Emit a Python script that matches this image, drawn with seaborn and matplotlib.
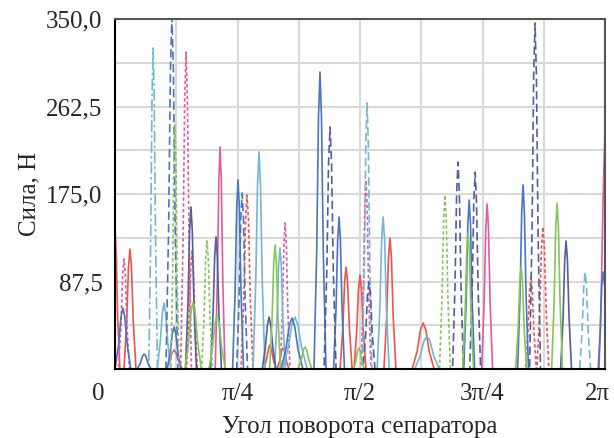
import seaborn as sns
import numpy as np
import pandas as pd
import matplotlib
matplotlib.use("Agg")
import matplotlib.pyplot as plt
import matplotlib.transforms as mtransforms
from matplotlib.ticker import MultipleLocator, FixedLocator, FixedFormatter

# ось X в градусах (0 .. 180), ось Y - сила, Н
red_solid_x = [0, 0.5, 1.0, 1.8,
               3.3, 4.3, 4.95, 5.5, 6.05, 6.7, 7.7,
               54.7, 55.7, 56.35, 56.9, 57.45, 58.1, 59.1,
               59.5, 60.5, 61.15, 61.7, 62.25, 62.9, 63.9,
               82.7, 83.7, 84.35, 84.9, 85.45, 86.1, 87.1,
               87.8, 88.8, 89.45, 90.0, 90.55, 91.2, 92.2,
               98.8, 99.8, 100.45, 101.0, 101.55, 102.2, 103.2,
               109.2, 111.0, 112.2, 113.2, 114.2, 115.4, 117.2,
               180]
red_solid_y = [142, 110, 50, 0,
               0, 48, 102, 120, 102, 48, 0,
               0, 10, 20, 24, 20, 10, 0,
               0, 8, 18, 21, 18, 8, 0,
               0, 41, 87, 102, 87, 41, 0,
               0, 38, 80, 94, 80, 38, 0,
               0, 52, 111, 131, 111, 52, 0,
               0, 18, 39, 46, 39, 18, 0,
               0]

red_dot_x = [0, 26.3, 27.2, 27.8, 28.3, 28.8, 29.4, 30.3,
             46.3, 47.3, 47.95, 48.5, 49.05, 49.7, 50.7,
             150.8, 151.7, 152.3, 152.8, 153.3, 153.9, 154.8,
             155.0, 156.0, 156.65, 157.2, 157.75, 158.4, 159.4, 180]
red_dot_y = [0, 0, 47, 100, 118, 100, 47, 0,
             0, 70, 148, 174, 148, 70, 0,
             0, 37, 78, 92, 78, 37, 0,
             0, 57, 121, 142, 121, 57, 0, 0]

pink_solid_x = [0, 18.7, 20.05, 20.95, 21.7, 22.45, 23.35, 24.7,
                36.8, 37.6, 38.15, 38.6, 39.05, 39.6, 40.4,
                134.7, 135.6, 136.2, 136.7, 137.2, 137.8, 138.7,
                177.8, 178.6, 179.3, 180]
pink_solid_y = [0, 0, 8, 16, 19, 16, 8, 0,
                0, 89, 189, 222, 189, 89, 0,
                0, 66, 140, 165, 140, 66, 0,
                0, 70, 170, 240]

pink_dot_x = [0, 1.3, 2.2, 2.8, 3.3, 3.8, 4.4, 5.3,
              24.1, 25.0, 25.6, 26.1, 26.6, 27.2, 28.1,
              60.7, 61.5, 62.05, 62.5, 62.95, 63.5, 64.3,
              90.4, 91.2, 91.75, 92.2, 92.65, 93.2, 94.0, 180]
pink_dot_y = [0, 0, 44, 94, 110, 94, 44, 0,
              0, 127, 269, 317, 269, 127, 0,
              0, 58, 124, 146, 124, 58, 0,
              0, 76, 161, 189, 161, 76, 0, 0]

lblue_dashdot_x = [0, 12.4, 13.1, 13.6, 14.0, 14.4, 14.9, 15.6, 180]
lblue_dashdot_y = [0, 0, 128, 273, 321, 273, 128, 0, 0]

lblue_dash_x = [0, 90.8, 91.6, 92.15, 92.6, 93.05, 93.6, 94.4,
                170.7, 171.6, 172.2, 172.7, 173.2, 173.8, 174.7, 180]
lblue_dash_y = [0, 0, 106, 226, 266, 226, 106, 0,
                0, 39, 82, 97, 82, 39, 0, 0]

lblue_solid_x = [0, 15.5, 16.6, 17.4, 18.0, 18.6, 19.4, 20.5,
                 50.7, 51.7, 52.35, 52.9, 53.45, 54.1, 55.1,
                 61.6, 63.6, 65.0, 66.1, 67.2, 68.6, 70.6,
                 96.3, 97.3, 97.95, 98.5, 99.05, 99.7, 100.7, 180]
lblue_solid_y = [0, 0, 26, 56, 66, 56, 26, 0,
                 0, 87, 184, 217, 184, 87, 0,
                 0, 21, 44, 52, 44, 21, 0,
                 0, 61, 129, 152, 129, 61, 0, 0]

lblue_solid2_x = [0, 58.6, 59.5, 60.1, 60.6, 61.1, 61.7, 62.6,
                  110.1, 112.1, 113.5, 114.6, 115.7, 117.1, 119.1, 180]
lblue_solid2_y = [0, 0, 48, 103, 121, 103, 48, 0,
                  0, 13, 28, 33, 28, 13, 0, 0]

blue_solid_x = [0, 1.3, 2.2, 2.9, 3.6, 4.5, 5.8,
                8.2, 9.3, 10.1, 10.7, 11.3, 12.1, 13.2,
                19.2, 20.3, 21.1, 21.7, 22.3, 23.1, 24.2,
                43.2, 44.1, 44.7, 45.2, 45.7, 46.3, 47.2,
                61.0, 62.8, 64.0, 65.0, 66.0, 67.2, 69.0,
                73.1, 74.1, 74.75, 75.3, 75.85, 76.5, 77.5,
                80.3, 81.2, 81.8, 82.3, 82.8, 83.4, 84.3,
                128.1, 129.0, 129.6, 130.1, 130.6, 131.2, 132.1,
                147.9, 148.8, 149.4, 149.9, 150.4, 151.0, 151.9,
                177.5, 178.3, 178.8, 179.3, 180]
blue_solid_y = [0, 24, 52, 61, 52, 24, 0,
                0, 6, 13, 15, 13, 6, 0,
                0, 17, 36, 42, 36, 17, 0,
                0, 76, 161, 189, 161, 76, 0,
                0, 20, 43, 51, 43, 20, 0,
                0, 119, 252, 297, 252, 119, 0,
                0, 61, 129, 152, 129, 61, 0,
                0, 68, 144, 169, 144, 68, 0,
                0, 74, 156, 184, 156, 74, 0,
                0, 40, 85, 97, 80]

blue_dash_x = [0, 18.7, 19.7, 20.35, 20.9, 21.45, 22.1, 23.1,
               44.7, 45.6, 46.2, 46.7, 47.2, 47.8, 48.7, 180]
blue_dash_y = [0, 0, 141, 299, 352, 299, 141, 0,
               0, 70, 150, 176, 150, 70, 0, 0]

navy_dash_x = [0, 76.8, 77.8, 78.45, 79.0, 79.55, 80.2, 81.2,
               91.1, 92.1, 92.75, 93.3, 93.85, 94.5, 95.5,
               124.0, 124.9, 125.5, 126.0, 126.5, 127.1, 128.0,
               130.3, 131.2, 131.8, 132.3, 132.8, 133.4, 134.3,
               152.3, 153.2, 153.8, 154.3, 154.8, 155.4, 156.3, 180]
navy_dash_y = [0, 0, 97, 206, 242, 206, 97, 0,
               0, 35, 74, 87, 74, 35, 0,
               0, 83, 176, 207, 176, 83, 0,
               0, 79, 167, 197, 167, 79, 0,
               0, 138, 294, 346, 294, 138, 0, 0]

navy_solid_x = [0, 25.9, 26.8, 27.4, 27.9, 28.4, 29.0, 29.9,
                35.1, 36.0, 36.6, 37.1, 37.6, 38.2, 39.1,
                54.1, 55.2, 56.0, 56.6, 57.2, 58.0, 59.1,
                163.7, 164.6, 165.2, 165.7, 166.2, 166.8, 167.7, 180]
navy_solid_y = [0, 0, 65, 138, 162, 138, 65, 0,
                0, 53, 112, 132, 112, 53, 0,
                0, 21, 44, 52, 44, 21, 0,
                0, 51, 109, 128, 109, 51, 0, 0]

green_dot_x = [0, 20.5, 21.2, 21.6, 22.0, 22.4, 22.8, 23.5,
               31.8, 32.7, 33.3, 33.8, 34.3, 34.9, 35.8,
               119.2, 120.1, 120.7, 121.2, 121.7, 122.3, 123.2, 180]
green_dot_y = [0, 0, 98, 207, 244, 207, 98, 0,
               0, 51, 109, 128, 109, 51, 0,
               0, 70, 148, 174, 148, 70, 0, 0]

green_solid_x = [0, 25.7, 27.05, 27.95, 28.7, 29.45, 30.35, 31.7,
                 34.5, 35.85, 36.75, 37.5, 38.25, 39.15, 40.5,
                 56.8, 57.7, 58.3, 58.8, 59.3, 59.9, 60.8,
                 67.3, 68.4, 69.2, 69.8, 70.4, 71.2, 72.3,
                 87.6, 88.5, 89.1, 89.6, 90.1, 90.7, 91.6,
                 127.7, 128.6, 129.2, 129.7, 130.2, 130.8, 131.7,
                 147.2, 148.1, 148.7, 149.2, 149.7, 150.3, 151.2,
                 160.4, 161.3, 161.9, 162.4, 162.9, 163.5, 164.4, 180]
green_solid_y = [0, 0, 27, 57, 67, 57, 27, 0,
                 0, 22, 46, 54, 46, 22, 0,
                 0, 50, 105, 124, 105, 50, 0,
                 0, 9, 19, 22, 19, 9, 0,
                 0, 8, 18, 21, 18, 8, 0,
                 0, 54, 116, 136, 116, 54, 0,
                 0, 41, 87, 102, 87, 41, 0,
                 0, 66, 141, 166, 141, 66, 0, 0]

x_ticks = [0, 45, 90, 135, 180]
x_labels = ["0", "π/4", "π/2", "3π/4", "2π"]
y_ticks = [87.5, 175.0, 262.5, 350.0]
y_labels = ["87,5", "175,0", "262,5", "350,0"]

RED, PINK, LBLUE = "#f0524c", "#e35a9f", "#74b6d6"
BLUE, NAVY, GREEN = "#4b74c2", "#535d9f", "#84c657"

series = {
    "red_solid": (red_solid_x, red_solid_y, RED, ""),
    "red_dot": (red_dot_x, red_dot_y, RED, (2, 1.5)),
    "pink_solid": (pink_solid_x, pink_solid_y, PINK, ""),
    "pink_dot": (pink_dot_x, pink_dot_y, PINK, (2, 1.5)),
    "lblue_dashdot": (lblue_dashdot_x, lblue_dashdot_y, LBLUE, (7, 2, 1.5, 2)),
    "lblue_dash": (lblue_dash_x, lblue_dash_y, LBLUE, (5, 2.5)),
    "lblue_solid": (lblue_solid_x, lblue_solid_y, LBLUE, ""),
    "lblue_solid2": (lblue_solid2_x, lblue_solid2_y, LBLUE, ""),
    "blue_solid": (blue_solid_x, blue_solid_y, BLUE, ""),
    "blue_dash": (blue_dash_x, blue_dash_y, BLUE, (5, 2.5)),
    "navy_dash": (navy_dash_x, navy_dash_y, NAVY, (5, 2.5)),
    "navy_solid": (navy_solid_x, navy_solid_y, NAVY, ""),
    "green_dot": (green_dot_x, green_dot_y, GREEN, (2, 1.5)),
    "green_solid": (green_solid_x, green_solid_y, GREEN, ""),
}

frames = []
for name, (xs, ys, c, d) in series.items():
    frames.append(pd.DataFrame({"x": xs, "y": ys, "series": name}))
df = pd.concat(frames, ignore_index=True)
palette = {k: v[2] for k, v in series.items()}
dashes = {k: v[3] for k, v in series.items()}

sns.set_style("white")
plt.rcParams["font.family"] = ["Liberation Serif", "DejaVu Serif"]

fig = plt.figure(figsize=(6.14, 4.38), dpi=100)
ax = fig.add_axes([115 / 614, 1 - 369 / 438, 490 / 614, 350 / 438])

sns.lineplot(data=df, x="x", y="y", hue="series", style="series",
             palette=palette, dashes=dashes, estimator=None, sort=False,
             legend=False, linewidth=1.2, ax=ax)

ax.set_xlim(0, 180)
ax.set_ylim(0, 350)

ax.xaxis.set_major_locator(FixedLocator(x_ticks))
ax.xaxis.set_major_formatter(FixedFormatter(x_labels))
ax.xaxis.set_minor_locator(MultipleLocator(22.5))
ax.yaxis.set_major_locator(FixedLocator(y_ticks))
ax.yaxis.set_major_formatter(FixedFormatter(y_labels))
ax.yaxis.set_minor_locator(MultipleLocator(43.75))

ax.grid(True, which="both", color="#d9d9d9", linewidth=1.5)
ax.set_axisbelow(True)

ax.tick_params(axis="y", which="major", direction="in", length=7, width=1.5,
               color="black", labelsize=18, pad=9)
ax.tick_params(axis="x", which="major", direction="inout", length=10, width=1.5,
               color="black", labelsize=18, pad=5)
ax.tick_params(which="minor", length=0)

# "0" стоит левее начала оси, "2π" чуть левее последней отметки
xl = ax.get_xticklabels()
xl[0].set_transform(xl[0].get_transform() +
                    mtransforms.ScaledTranslation(-0.17, 0, fig.dpi_scale_trans))
xl[-1].set_transform(xl[-1].get_transform() +
                     mtransforms.ScaledTranslation(-0.08, 0, fig.dpi_scale_trans))

for s in ["left", "bottom"]:
    ax.spines[s].set_color("black")
    ax.spines[s].set_linewidth(1.5)
for s in ["top", "right"]:
    ax.spines[s].set_color("#555555")
    ax.spines[s].set_linewidth(1.5)
    ax.spines[s].set_visible(True)

ax.set_xlabel("Угол поворота сепаратора", fontsize=18, labelpad=8)
ax.set_ylabel("Сила, Н", fontsize=18, labelpad=4)

fig.savefig("out.png", dpi=100)
